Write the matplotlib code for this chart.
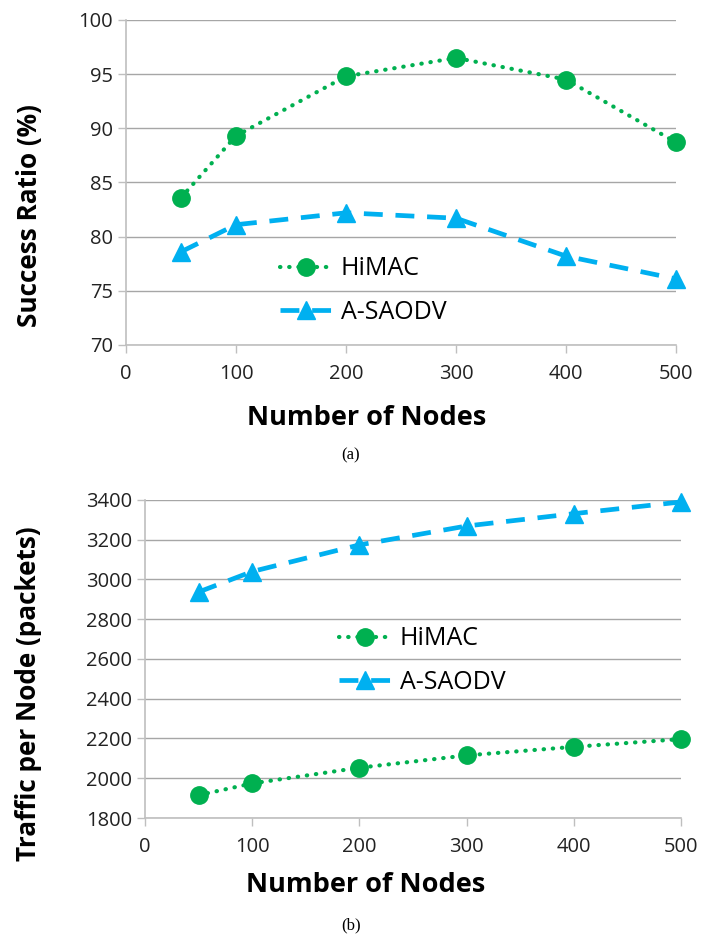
import matplotlib.pyplot as plt

nodes = [50, 100, 200, 300, 400, 500]

# (a) success ratio
himac_success = [83.6, 89.3, 94.8, 96.5, 94.5, 88.7]
asaodv_success = [78.6, 81.1, 82.2, 81.7, 78.2, 76.1]

# (b) traffic per node
himac_traffic = [1915, 1974, 2053, 2115, 2158, 2197]
asaodv_traffic = [2937, 3040, 3174, 3269, 3331, 3390]

green = "#00B050"
blue = "#00B0F0"
grid_col = "#A6A6A6"

plt.rcParams['font.family'] = ['Open Sans', 'DejaVu Sans']

fig = plt.figure(figsize=(7.02, 9.41), dpi=100)


def style_axes(ax, ylim, yticks):
    ax.set_xlim(0, 500)
    ax.set_ylim(*ylim)
    ax.set_xticks(range(0, 501, 100))
    ax.set_yticks(yticks)
    ax.grid(axis='y', color=grid_col, linewidth=1)
    ax.set_axisbelow(True)
    for s in ['top', 'right']:
        ax.spines[s].set_visible(False)
    for s in ['left', 'bottom']:
        ax.spines[s].set_color("#BFBFBF")
        ax.spines[s].set_linewidth(1.2)
    ax.tick_params(axis='both', colors="#BFBFBF", length=6, width=1, labelsize=14.5,
                   labelcolor="#222222")
    ax.tick_params(axis='x', pad=8)


def draw(ax, hi, asd):
    ax.plot(nodes, hi, linestyle=(0, (0.1, 2.1)), dash_capstyle='round', color=green,
            linewidth=3.0, marker='o', markersize=12.5, label="HiMAC", clip_on=False)
    ax.plot(nodes, asd, linestyle=(0, (4, 2.7)), color=blue, linewidth=3.4,
            marker='^', markersize=13.5, label="A-SAODV", clip_on=False)


def labels(ax, ylabel, xpos, ypos):
    ax.set_xlabel("Number of Nodes", fontsize=19.5, fontweight='bold')
    ax.set_ylabel(ylabel, fontsize=18.8, fontweight='bold')
    ax.xaxis.label.set_va('center')
    ax.yaxis.label.set_va('center')
    ax.xaxis.set_label_coords(*xpos)
    ax.yaxis.set_label_coords(*ypos)


def legend(ax, anchor):
    ax.legend(loc='center left', bbox_to_anchor=anchor, frameon=False, fontsize=18,
              handlelength=2.1, labelspacing=0.73, handletextpad=0.32,
              borderpad=0, borderaxespad=0)


# top panel
ax1 = fig.add_axes([0.1795, 0.6334, 0.7835, 0.3454])
draw(ax1, himac_success, asaodv_success)
style_axes(ax1, (70, 100), range(70, 101, 5))
labels(ax1, "Success Ratio (%)", (0.438, -0.225), (-0.175, 0.397))
legend(ax1, (0.28, 0.1675))
fig.text(0.5, 1 - 455 / 941, "(a)", ha='center', va='center', fontsize=12,
         family='Liberation Serif')

# bottom panel
ax2 = fig.add_axes([0.2066, 0.1307, 0.7635, 0.338])
draw(ax2, himac_traffic, asaodv_traffic)
style_axes(ax2, (1800, 3400), range(1800, 3401, 200))
labels(ax2, "Traffic per Node (packets)", (0.412, -0.21), (-0.218, 0.39))
legend(ax2, (0.362, 0.4955))
fig.text(0.5, 1 - 925 / 941, "(b)", ha='center', va='center', fontsize=12,
         family='Liberation Serif')

fig.savefig("out.png", dpi=100)
